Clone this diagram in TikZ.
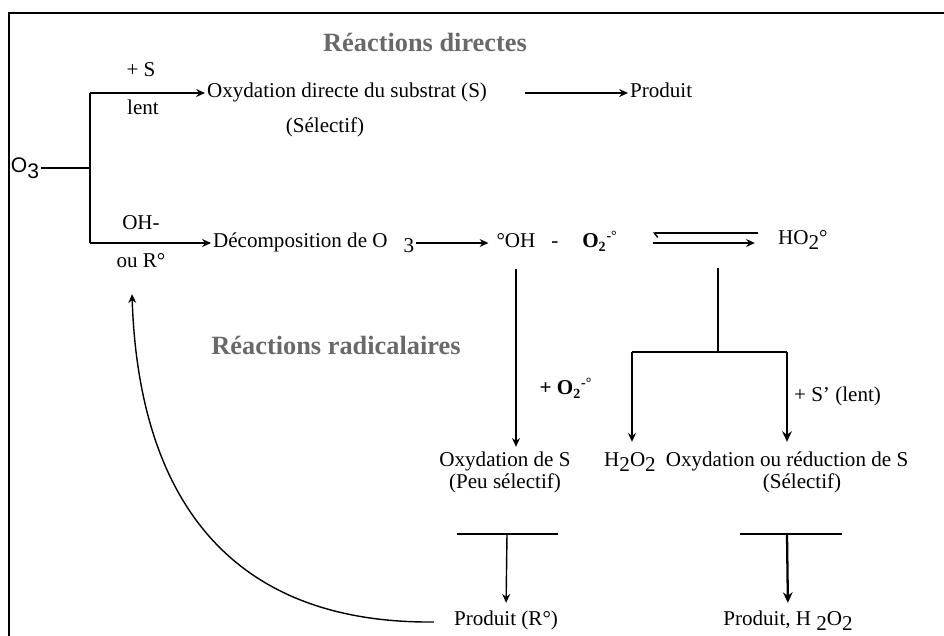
\documentclass[tikz,border=0pt]{standalone}
\usepackage{fontspec}
\setmainfont{Liberation Serif}
\setsansfont{Liberation Sans}
\usetikzlibrary{arrows.meta,calc}

\newcommand{\lowr}[1]{\raisebox{-0.5ex}{#1}}
\definecolor{headgray}{RGB}{105,105,105}

\tikzset{
  lbl/.style={inner sep=1pt, font=\fontsize{12}{14}\selectfont, text height=1.6ex, text depth=0.4ex},
  head/.style={inner sep=1pt, font=\fontsize{15}{18}\selectfont\bfseries, text=headgray},
  conn/.style={line width=0.8pt},
  arr/.style={conn, -{Stealth[length=5pt,width=4.5pt]}},
  thickarr/.style={line width=1.3pt, -{Stealth[length=6pt,width=5.5pt]}}
}

\begin{document}
\begin{tikzpicture}[x=0.02cm,y=-0.02cm]
\useasboundingbox (0,0) rectangle (944,636);
\draw[line width=1.1pt] (944,13) -- (9,13) -- (9,636);

% titres
\node[head] (hdir) at (425,42) {Réactions directes};
\node[head] (hrad) at (336,345) {Réactions radicalaires};

% voie directe
\node[lbl,font=\fontsize{12}{14}\selectfont\sffamily] (o3) at (25,168) {O\lowr{3}};
\node[lbl] (plusS) at (141,72) {+ S};
\node[lbl] (lent) at (143,110) {lent};
\node[lbl,anchor=west] (oxdir) at (205,93) {Oxydation directe du substrat (S)};
\node[lbl] (sel1) at (325,128) {(Sélectif)};
\node[lbl,anchor=west] (prod1) at (628,93) {Produit};

% voie radicalaire
\node[lbl] (ohm) at (141,225) {OH-};
\node[lbl] (ourad) at (141,263) {ou R°};
\node[lbl,anchor=west] (decomp) at (211,243) {Décomposition de O\hspace{0.32cm}\lowr{3}};
\node[lbl] (oh) at (516,243) {°OH};
\node[lbl] (tiret) at (555,243) {-};
\node[lbl] (o2) at (600,243) {\textbf{O\textsubscript{2}\textsuperscript{-°}}};
\node[lbl,anchor=west] (ho2) at (776,240) {HO\lowr{2}°};
\node[lbl] (po2) at (566,390) {\textbf{+ O\textsubscript{2}\textsuperscript{-°}}};
\node[lbl,anchor=west] (pslent) at (792,397) {+ S' (lent)};
\node[lbl] (oxs) at (505,462) {Oxydation de S};
\node[lbl] (h2o2) at (630,462) {H\lowr{2}O\lowr{2}};
\node[lbl] (oxred) at (787,462) {Oxydation ou réduction de S};
\node[lbl] (peusel) at (505,484) {(Peu sélectif)};
\node[lbl] (sel2) at (802,484) {(Sélectif)};
\node[lbl] (prodr) at (506,621) {Produit (R°)};
\node[lbl] (prodh) at (788,621) {Produit, H \lowr{2}O\lowr{2}};

\coordinate (fork) at (90,168);
\coordinate (brtop) at (90,93);
\coordinate (brbot) at (90,243);
\coordinate (eqmid) at (718,268);
\coordinate (jn) at (718,352);
\coordinate (jl) at (632,352);
\coordinate (jr) at (787,352);
\coordinate (barL) at (507,534);
\coordinate (barR) at (787,534);

\draw[conn] (o3.east) -- (fork);
\draw[conn] (brtop) -- (brbot);
\draw[arr] (brtop) -- (brtop -| oxdir.west);
\draw[arr] (brbot) -- (brbot -| decomp.west);
\draw[arr,shorten <=0.72cm] (oxdir.east) -- (prod1.west);
\draw[arr,shorten >=0.12cm] (decomp.east) -- (oh.west);

% equilibre
\draw[conn,{Straight Barb[harpoon,length=2pt,width=5pt]}-] (o2.east) ++(33,-10) -- ++(105,0);
\draw[arr] (o2.east) ++(33,0) -- ++(102,0);

\draw[arr,shorten <=0.32cm,shorten >=0.1cm] (oh.south) -- (oh.south |- oxs.north);
\draw[conn] (eqmid) -- (jn);
\draw[line width=1.4pt] (jl) -- (jr);
\draw[arr,shorten >=0.2cm] (jl) -- (jl |- h2o2.north);
\draw[thickarr,shorten >=0.2cm] (jr) -- (jr |- oxred.north);

\draw[conn] ($(barL)+(-50,0)$) -- ($(barL)+(51,0)$);
\draw[arr,shorten >=0.16cm] (barL) -- (prodr.north);
\draw[conn] ($(barR)+(-47,0)$) -- ($(barR)+(55,0)$);
\draw[thickarr,shorten >=0.16cm] (barR) -- (prodh.north);

% retour
\draw[arr] ($(prodr.west)+(-18,1)$) .. controls (215,624) and (138,480) .. ($(ourad.south)+(-9,21)$);
\end{tikzpicture}
\end{document}
